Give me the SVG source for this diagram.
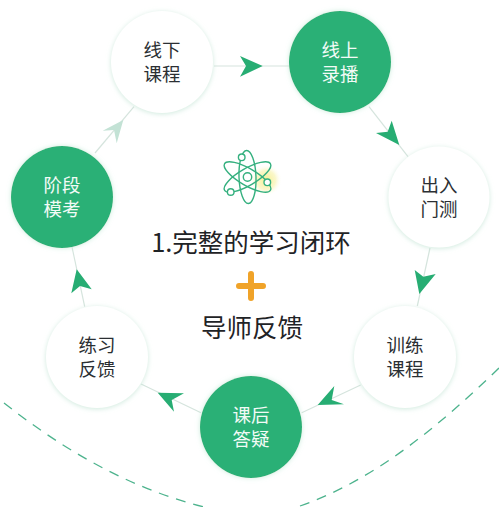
<svg xmlns="http://www.w3.org/2000/svg" width="499" height="507" viewBox="0 0 499 507">
<style>
.lbl{font-family:"Noto Sans CJK SC","Noto Sans",sans-serif;font-size:18.5px;text-anchor:middle}
.dark{fill:#2b2f33}
.light{fill:#f2fbf6}
.big{font-family:"Noto Sans CJK SC","Noto Sans",sans-serif;font-size:25.5px;fill:#1f2326;text-anchor:middle}
.wn{fill:#fff;filter:url(#glow)}
.gn{fill:#2bb076;filter:url(#glowg)}
.ln{stroke:#d5e4dd;stroke-width:1.2;fill:none}
.ah{fill:#27ad73}
.dash{fill:none;stroke:#4db38d;stroke-width:1.3;stroke-dasharray:10 8}
.at{fill:none;stroke:#35b07f;stroke-width:1.4}
</style>
<defs>
<filter id="glow" x="-20%" y="-20%" width="140%" height="140%"><feDropShadow dx="0" dy="1" stdDeviation="2.5" flood-color="#bfe3d2" flood-opacity=".75"/></filter>
<filter id="glowg" x="-20%" y="-20%" width="140%" height="140%"><feDropShadow dx="0" dy="0" stdDeviation="2.5" flood-color="#bfe8d4" flood-opacity=".8"/></filter>
<radialGradient id="sun"><stop offset="0" stop-color="#f6f08f"/><stop offset=".6" stop-color="#f8f4b4" stop-opacity=".7"/><stop offset="1" stop-color="#fff" stop-opacity="0"/></radialGradient>
</defs>
<rect width="499" height="507" fill="#fff"/>
<g id="curves">
<path class="dash" d="M4 403C60 447 125 487 204 507"/>
<path class="dash" d="M300 506C375 480 440 425 499 368"/>
</g>
<g id="connectors">
<path class="ln" d="M214 66H289"/>
<polygon class="ah" points="240,56 262.7,66 240,76.7 246,66"/>
<path class="ln" d="M369 106.7L408 156.7"/>
<polygon class="ah" points="399.3,145 376,133 387.7,131.7 391.7,120.7"/>
<path class="ln" d="M430 248L417.3 306"/>
<polygon class="ah" points="419.3,294 414.7,270 423.3,276.7 435.7,274"/>
<path class="ln" d="M360.7 385L301.7 412.7"/>
<polygon class="ah" points="317.7,405 334.3,386 331.7,400 344,404.3"/>
<path class="ln" d="M201 412.7L141 384"/>
<polygon class="ah" points="157.7,392.7 184,393.3 171.7,400 174,411.7"/>
<path class="ln" d="M84.7 306.7L72 247"/>
<polygon class="ah" points="76.7,269.3 91.7,289.3 80,286 71.3,293.3"/>
<path class="ln" d="M134 106.7L95 153"/>
<polygon fill="#c3e2d5" points="123.3,120 116.7,143.3 114,130 102.7,130.7"/>
</g>
<g id="node-xianxia"><circle class="wn" cx="162" cy="62" r="51"/><text class="lbl dark" x="162" y="57">线下</text><text class="lbl dark" x="162" y="81">课程</text></g>
<g id="node-xianshang"><circle class="gn" cx="340" cy="62" r="51"/><text class="lbl light" x="340" y="57">线上</text><text class="lbl light" x="340" y="81">录播</text></g>
<g id="node-churu"><circle class="wn" cx="439" cy="197" r="50.5"/><text class="lbl dark" x="439" y="192">出入</text><text class="lbl dark" x="439" y="216">门测</text></g>
<g id="node-xunlian"><circle class="wn" cx="405" cy="357" r="51"/><text class="lbl dark" x="405" y="352">训练</text><text class="lbl dark" x="405" y="376">课程</text></g>
<g id="node-kehou"><circle class="gn" cx="251" cy="427" r="51"/><text class="lbl light" x="251" y="422">课后</text><text class="lbl light" x="251" y="446">答疑</text></g>
<g id="node-lianxi"><circle class="wn" cx="97" cy="357" r="51"/><text class="lbl dark" x="97" y="352">练习</text><text class="lbl dark" x="97" y="376">反馈</text></g>
<g id="node-jieduan"><circle class="gn" cx="62" cy="197" r="51"/><text class="lbl light" x="62" y="192">阶段</text><text class="lbl light" x="62" y="216">模考</text></g>
<g id="center">
<circle cx="266" cy="180" r="16" fill="url(#sun)"/>
<g class="at">
<ellipse cx="247.500" cy="177" rx="8.500" ry="26.500" transform="rotate(-2 247.500 177)"/>
<ellipse cx="247.500" cy="177" rx="26.500" ry="8.500" transform="rotate(30 247.500 177)"/>
<ellipse cx="247.500" cy="177" rx="26.500" ry="8.500" transform="rotate(-30 247.500 177)"/>
<circle cx="247.500" cy="177" r="4.200"/>
<circle cx="241.700" cy="157.300" r="3.300" fill="#fff"/>
<circle cx="267.300" cy="182.300" r="3.300" fill="#fff"/>
<circle cx="230.700" cy="192" r="3.300" fill="#fff"/>
</g>
<text class="big" x="251" y="252">1.完整的学习闭环</text>
<path d="M251 274V298M239 286H263" stroke="#f0a329" stroke-width="6" stroke-linecap="round" fill="none"/>
<text class="big" x="252" y="337">导师反馈</text>
</g>
</svg>
